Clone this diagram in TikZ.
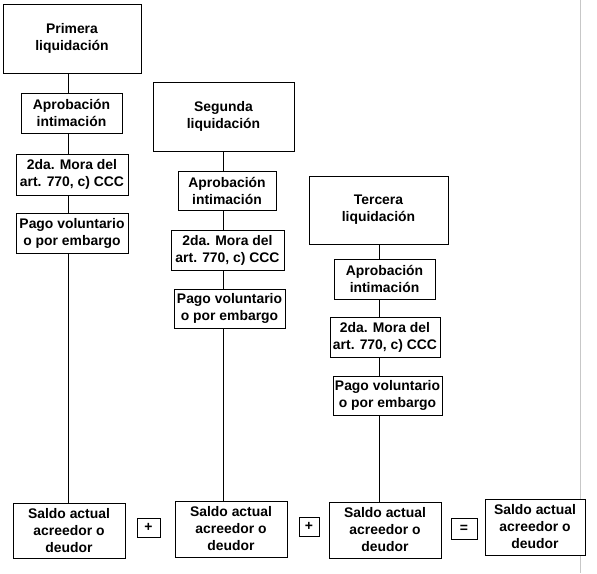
\documentclass[tikz,border=0pt]{standalone}
\usepackage{fontspec}
\setmainfont{Liberation Sans}
\begin{document}
\begin{tikzpicture}[x=1pt,y=-1pt,
  bx/.style={draw=black,line width=1pt,fill=white,inner sep=0pt,align=center,
    font=\fontsize{13.9}{17}\selectfont\bfseries},
  conn/.style={draw=black,line width=1pt}]
\useasboundingbox (0,0) rectangle (597,573);
\fill[white] (0,0) rectangle (597,573);
\draw[line width=1pt,black!22] (580,0) -- (580,573);
% column coordinates
\coordinate (c1) at (68,0);
\coordinate (c2) at (223,0);
\coordinate (c3) at (379,0);
% column 1
\node[bx,minimum width=138pt,minimum height=69pt] (p1) at (72,38.5) {Primera\\liquidación};
\node[bx,minimum width=101pt,minimum height=40pt] (a1) at (71.5,113) {Aprobación\\intimación};
\node[bx,minimum width=112pt,minimum height=41pt] (m1) at (72,174.5) {2da. Mora del\\art. 770, c) CCC};
\node[bx,minimum width=112pt,minimum height=40pt] (g1) at (72,233) {Pago voluntario\\o por embargo};
\node[bx,minimum width=112pt,minimum height=55pt] (s1) at (69,530.5) {Saldo actual\\acreedor o\\deudor};
% column 2
\node[bx,minimum width=141pt,minimum height=69pt] (p2) at (223.5,116.5) {Segunda\\liquidación};
\node[bx,minimum width=98pt,minimum height=39pt] (a2) at (227,190.5) {Aprobación\\intimación};
\node[bx,minimum width=113pt,minimum height=40pt] (m2) at (227.5,250) {2da. Mora del\\art. 770, c) CCC};
\node[bx,minimum width=111pt,minimum height=39pt] (g2) at (229.5,308.5) {Pago voluntario\\o por embargo};
\node[bx,minimum width=112pt,minimum height=56pt] (s2) at (231,529) {Saldo actual\\acreedor o\\deudor};
% column 3
\node[bx,minimum width=139pt,minimum height=68pt] (p3) at (378.5,210) {Tercera\\liquidación};
\node[bx,minimum width=101pt,minimum height=40pt] (a3) at (384.5,279) {Aprobación\\intimación};
\node[bx,minimum width=110pt,minimum height=40pt] (m3) at (385,337) {2da. Mora del\\art. 770, c) CCC};
\node[bx,minimum width=109pt,minimum height=39pt] (g3) at (387.5,395.5) {Pago voluntario\\o por embargo};
\node[bx,minimum width=112pt,minimum height=56pt] (s3) at (385,530) {Saldo actual\\acreedor o\\deudor};
% operators and result
\node[bx,minimum width=23pt,minimum height=19pt] (plus1) at (148.5,527.5) {+};
\node[bx,minimum width=20pt,minimum height=19pt] (plus2) at (309,526.5) {+};
\node[bx,minimum width=26pt,minimum height=21pt] (eq) at (464,528.5) {=};
\node[bx,minimum width=100pt,minimum height=56pt] (s4) at (535,527) {Saldo actual\\acreedor o\\deudor};
% connectors
\draw[conn] (p1.south -| c1) -- (a1.north -| c1);
\draw[conn] (a1.south -| c1) -- (m1.north -| c1);
\draw[conn] (m1.south -| c1) -- (g1.north -| c1);
\draw[conn] (g1.south -| c1) -- (s1.north -| c1);
\draw[conn] (p2.south -| c2) -- (a2.north -| c2);
\draw[conn] (a2.south -| c2) -- (m2.north -| c2);
\draw[conn] (m2.south -| c2) -- (g2.north -| c2);
\draw[conn] (g2.south -| c2) -- (s2.north -| c2);
\draw[conn] (p3.south -| c3) -- (a3.north -| c3);
\draw[conn] (a3.south -| c3) -- (m3.north -| c3);
\draw[conn] (m3.south -| c3) -- (g3.north -| c3);
\draw[conn] (g3.south -| c3) -- (s3.north -| c3);
\end{tikzpicture}
\end{document}
